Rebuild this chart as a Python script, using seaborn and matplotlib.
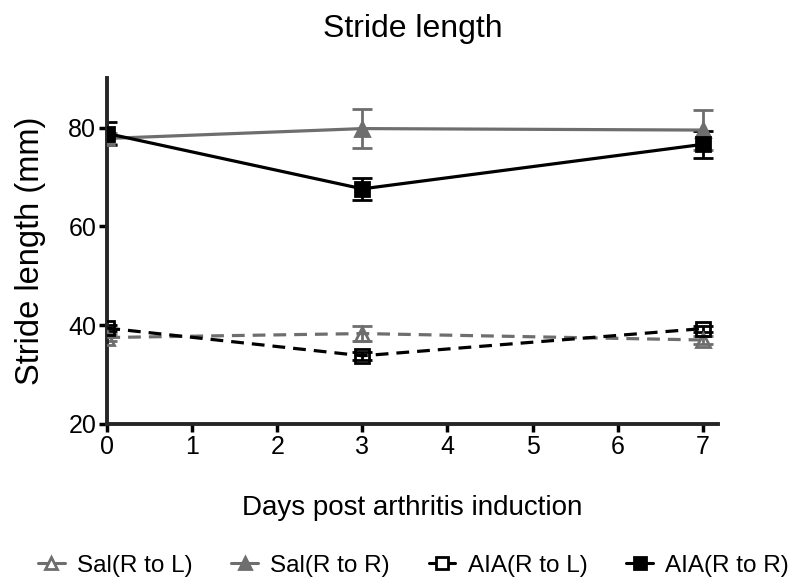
import numpy as np
import pandas as pd
import matplotlib
matplotlib.use("Agg")
import matplotlib.pyplot as plt
import seaborn as sns

days = [0, 3, 7]
series = ["Sal(R to L)", "Sal(R to R)", "AIA(R to L)", "AIA(R to R)"]
sal_rl = [37.5, 38.3, 37.0]
sal_rl_err = [0.8, 1.6, 0.9]
sal_rr = [77.8, 79.8, 79.5]
sal_rr_err = [1.2, 4.0, 4.0]
aia_rl = [39.4, 33.8, 39.3]
aia_rl_err = [0.6, 0.8, 0.6]
aia_rr = [78.8, 67.6, 76.6]
aia_rr_err = [2.3, 2.2, 2.8]

sns.set_style("ticks")
plt.rcParams['font.family'] = ['Liberation Sans', 'DejaVu Sans']
plt.rcParams['text.color'] = 'black'
plt.rcParams['axes.labelcolor'] = 'black'
plt.rcParams['xtick.color'] = 'black'
plt.rcParams['ytick.color'] = 'black'

fig = plt.figure(figsize=(7.95, 5.88), dpi=100)
ax = fig.add_axes([0.135, 0.279, 0.768, 0.588])

styles = [
    (sal_rl, sal_rl_err, "#6e6e6e", "^", "none", (0, (4, 2.5))),
    (sal_rr, sal_rr_err, "#6e6e6e", "^", "#6e6e6e", "-"),
    (aia_rl, aia_rl_err, "black", "s", "none", (0, (4, 2.5))),
    (aia_rr, aia_rr_err, "black", "s", "black", "-"),
]

handles = []
for name, (vals, err, col, mk, fc, ls) in zip(series, styles):
    df = pd.DataFrame({"day": days, "val": vals})
    ax.errorbar(days, vals, yerr=err, fmt="none", ecolor=col,
                elinewidth=2, capsize=7, capthick=2, zorder=2)
    sns.lineplot(data=df, x="day", y="val", ax=ax, color=col, linewidth=2.3,
                 linestyle=ls, marker=mk, markersize=10, markerfacecolor=fc,
                 markeredgecolor=col, markeredgewidth=2, zorder=3, legend=False)
    h, = ax.plot([], [], color=col, linewidth=2.2, marker=mk, markersize=9,
                 markerfacecolor="white" if fc == "none" else fc,
                 markeredgecolor=col, markeredgewidth=2, label=name)
    handles.append(h)

ax.set_xlim(0, 7.18)
ax.set_ylim(20, 90)
ax.set_xticks(range(0, 8))
ax.set_yticks([20, 40, 60, 80])
ax.tick_params(axis="both", labelsize=18, width=2.5, length=6, direction="out", pad=2)
for s in ["left", "bottom"]:
    ax.spines[s].set_linewidth(2.8)
sns.despine(ax=ax)
ax.set_xlabel("Days post arthritis induction", fontsize=20, labelpad=26)
ax.set_ylabel("Stride length (mm)", fontsize=23.5, labelpad=16)
ax.set_title("Stride length", fontsize=23, pad=30)

fig.legend(handles=handles, loc="lower center", ncol=4, frameon=False,
           fontsize=17.5, bbox_to_anchor=(0.52, -0.018), handlelength=1.1,
           columnspacing=1.6, handletextpad=0.5)

fig.savefig("out.png", dpi=100)
